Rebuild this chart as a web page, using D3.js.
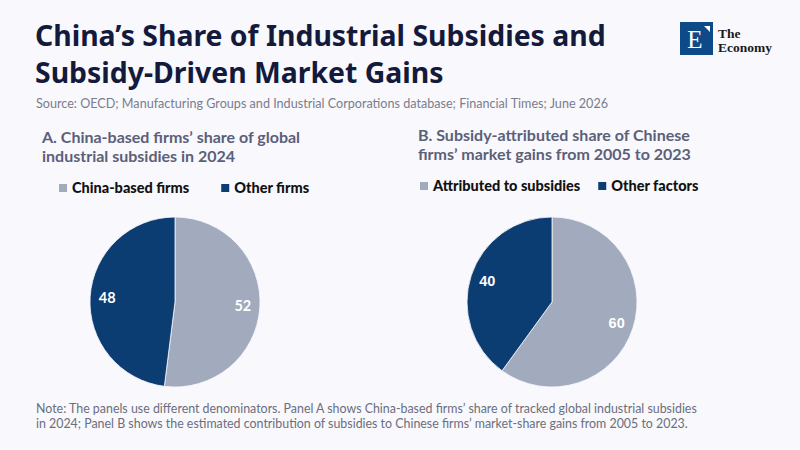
<!DOCTYPE html>
<html><head><meta charset="utf-8">
<script src="https://cdn.jsdelivr.net/npm/d3@7"></script>
<style>
html,body{margin:0;padding:0;background:#f8f8fd;}
svg{display:block;}
</style></head>
<body>
<svg id="chart" width="800" height="450"></svg>
<script>
// ---- data ----
const panelATitle = ["A. China-based firms’ share of global", "industrial subsidies in 2024"];
const panelACategories = ["China-based firms", "Other firms"];
const panelAValues = [52, 48];

const panelBTitle = ["B. Subsidy-attributed share of Chinese", "firms’ market gains from 2005 to 2023"];
const panelBCategories = ["Attributed to subsidies", "Other factors"];
const panelBValues = [60, 40];

const titleLines = ["China’s Share of Industrial Subsidies and", "Subsidy-Driven Market Gains"];
const sourceText = "Source: OECD; Manufacturing Groups and Industrial Corporations database; Financial Times; June 2026";
const noteLines = [
  "Note: The panels use different denominators. Panel A shows China-based firms’ share of tracked global industrial subsidies",
  "in 2024; Panel B shows the estimated contribution of subsidies to Chinese firms’ market-share gains from 2005 to 2023."
];

// ---- drawing ----
const W = 800, H = 450;
const bg = "#f8f8fd";
const colors = ["#a2aabe", "#0b3d73"];
const font = "Lato, 'Source Sans Pro', 'Noto Sans', sans-serif";
const titleFont = "'Noto Sans', 'Open Sans', sans-serif";
const svg = d3.select("#chart");
svg.append("rect").attr("width", W).attr("height", H).attr("fill", bg);

// title
svg.append("g").selectAll("text").data(titleLines).join("text")
  .attr("x", 35).attr("y", 46).attr("dy", (d, i) => i * 36.5)
  .attr("font-family", titleFont).attr("font-weight", 700).attr("font-size", 28.4)
  .attr("fill", "#131a3c").text(d => d);

svg.append("text").attr("x", 36).attr("y", 108)
  .attr("font-family", font).attr("font-size", 12.6).attr("fill", "#7a7d8c").text(sourceText);

// logo
const logo = svg.append("g");
logo.append("rect").attr("x", 680).attr("y", 22).attr("width", 33).attr("height", 33).attr("fill", "#0f4a88");
logo.append("path").attr("d", "M704,26 L710,26 L710,32 Z").attr("fill", "#ffffff");
logo.append("text").attr("x", 695).attr("y", 48).attr("text-anchor", "middle")
  .attr("font-family", "'Liberation Serif', 'DejaVu Serif', serif").attr("font-size", 25)
  .attr("fill", "#ffffff").text("E");
logo.append("text").attr("x", 718).attr("y", 38)
  .attr("font-family", "'Liberation Serif', serif").attr("font-weight", "bold").attr("font-size", 13.5)
  .attr("fill", "#1a1a1a").text("The");
logo.append("text").attr("x", 718).attr("y", 52)
  .attr("font-family", "'Liberation Serif', serif").attr("font-weight", "bold").attr("font-size", 13.5)
  .attr("fill", "#1a1a1a").text("Economy");

// panels
function panel(cfg) {
  const g = svg.append("g");
  g.selectAll("text.pt").data(cfg.title).join("text").attr("class", "pt")
    .attr("x", cfg.tx).attr("y", (d, i) => cfg.ty + i * 19)
    .attr("font-family", font).attr("font-weight", 700).attr("font-size", 16)
    .attr("fill", "#5b6079").text(d => d);

  // legend
  const lg = g.append("g");
  let x = cfg.lx;
  cfg.categories.forEach((c, i) => {
    lg.append("rect").attr("x", x).attr("y", cfg.ly - 9).attr("width", 8).attr("height", 8).attr("fill", colors[i]);
    const t = lg.append("text").attr("x", x + 13).attr("y", cfg.ly)
      .attr("font-family", font).attr("font-weight", 900).attr("font-size", 14.5)
      .attr("fill", "#111111").text(c);
    x += 13 + t.node().getComputedTextLength() + cfg.lgap;
  });

  const pie = d3.pie().sort(null).value(d => d)(cfg.values);
  const r = 85;
  const arc = d3.arc().innerRadius(0).outerRadius(r);
  const labelArc = d3.arc().innerRadius(r * 0.8).outerRadius(r * 0.8);
  const pg = g.append("g").attr("transform", `translate(${cfg.cx},${cfg.cy})`);
  pg.selectAll("path").data(pie).join("path")
    .attr("d", arc).attr("fill", (d, i) => colors[i])
    .attr("stroke", bg).attr("stroke-width", 0.8);
  pg.selectAll("text").data(pie).join("text")
    .attr("transform", d => `translate(${labelArc.centroid(d)})`)
    .attr("text-anchor", "middle").attr("dy", "0.35em")
    .attr("font-family", cfg.labelFont).attr("font-weight", 700).attr("font-size", 14.5)
    .attr("fill", "#ffffff").text(d => d.data);
}

panel({ title: panelATitle, tx: 42, ty: 143, categories: panelACategories, lx: 59, ly: 193, lgap: 32,
  values: panelAValues, cx: 175, cy: 302, labelFont: font });
panel({ title: panelBTitle, tx: 418, ty: 141, categories: panelBCategories, lx: 420, ly: 191, lgap: 18,
  values: panelBValues, cx: 552, cy: 302, labelFont: "'Liberation Sans', Arial, sans-serif" });

// note
svg.append("g").selectAll("text").data(noteLines).join("text")
  .attr("x", 36).attr("y", (d, i) => 413 + i * 15)
  .attr("font-family", font).attr("font-size", 12.4).attr("fill", "#6b6e7c").text(d => d);
</script>
</body></html>
